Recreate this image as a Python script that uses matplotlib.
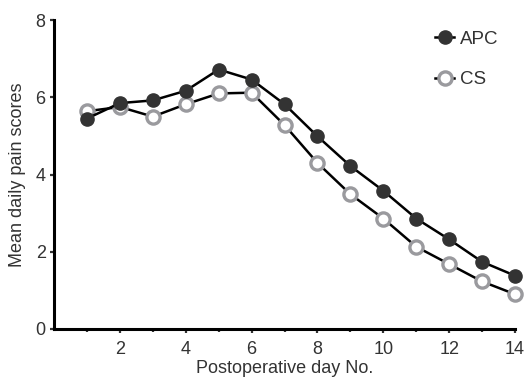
import numpy as np
import matplotlib
matplotlib.use('Agg')
import matplotlib.pyplot as plt

plt.rcParams['font.family'] = ['Liberation Sans', 'DejaVu Sans']

# Data
days = np.arange(1, 15)
apc = [5.45, 5.85, 5.92, 6.17, 6.72, 6.46, 5.82, 4.99, 4.22, 3.58, 2.86, 2.32, 1.74, 1.38]
cs = [5.64, 5.75, 5.50, 5.82, 6.10, 6.12, 5.28, 4.30, 3.49, 2.86, 2.13, 1.68, 1.23, 0.90]
xticks = [2, 4, 6, 8, 10, 12, 14]
yticks = [0, 2, 4, 6, 8]

txt = '#333333'
fs = 13

fig = plt.figure(figsize=(5.25, 3.79), dpi=100)
ax = fig.add_axes([0.103, 0.132, 0.878, 0.815])

ax.plot(days, cs, '-o', color='black', lw=1.8, ms=9.5, mfc='white',
        mec='#9a9a9e', mew=2.4, label='CS', clip_on=False, zorder=3)
ax.plot(days, apc, '-o', color='black', lw=1.8, ms=9.5, mfc='#333333',
        mec='#333333', label='APC', clip_on=False, zorder=4)

ax.set_xlim(0, 14)
ax.set_ylim(0, 8)
ax.set_xticks(xticks)
ax.set_xticks(days, minor=True)
ax.set_yticks(yticks)

for s in ['top', 'right']:
    ax.spines[s].set_visible(False)
for s in ['left', 'bottom']:
    ax.spines[s].set_linewidth(2.2)
ax.tick_params(axis='both', which='major', length=3, width=1.6, labelsize=fs,
               colors=txt, labelcolor=txt)
ax.tick_params(axis='x', which='minor', length=2.5, width=1.6, colors=txt)
ax.tick_params(axis='y', pad=3)
ax.tick_params(axis='x', pad=6)

ax.set_xlabel('Postoperative day No.', fontsize=fs, color=txt, labelpad=1)
ax.set_ylabel('Mean daily pain scores', fontsize=fs, color=txt, labelpad=7)

h, l = ax.get_legend_handles_labels()
ax.legend(h[::-1], l[::-1], loc='upper right', bbox_to_anchor=(1.0, 1.02),
          frameon=False, handlelength=1.0, handletextpad=0.3,
          labelspacing=1.25, fontsize=13.5, labelcolor=txt)

fig.savefig('out.png', dpi=100)
